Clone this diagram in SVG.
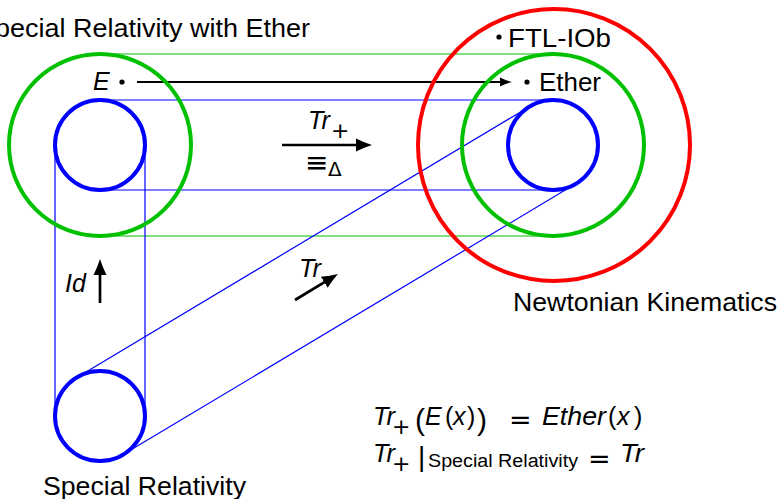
<svg xmlns="http://www.w3.org/2000/svg" width="781" height="499" viewBox="0 0 781 499">
<defs>
<style>
.lbl{font-family:"Liberation Sans",Arial,sans-serif;font-size:26px;fill:#000}
.it{font-family:"Liberation Sans",Arial,sans-serif;font-style:italic;font-size:25px;fill:#000}
.rm{font-family:"Liberation Sans",Arial,sans-serif;fill:#000}
.dv{font-family:"DejaVu Sans",sans-serif;fill:#000}
.g{fill:none;stroke:#00c000;stroke-width:4}
.b{fill:none;stroke:#0000ff;stroke-width:4}
.r{fill:none;stroke:#ff0000;stroke-width:4}
.tg{stroke:#00c000;stroke-width:1.2;fill:none}
.tb{stroke:#0000ff;stroke-width:1.2;fill:none}
.ar{stroke:#000;stroke-width:2;fill:none}
.arT{stroke:#000;stroke-width:2.7;fill:none}
</style>
<marker id="headS" markerUnits="userSpaceOnUse" viewBox="0 -5 12 10" markerWidth="12" markerHeight="10" refX="6" refY="0" orient="auto">
<path d="M0,-4.5 Q6,-1.5 12,0 Q6,1.5 0,4.5 Z" fill="#000"/>
</marker>
<marker id="headL" markerUnits="userSpaceOnUse" viewBox="0 -7 16 14" markerWidth="16" markerHeight="14" refX="8" refY="0" orient="auto">
<path d="M0,-6.5 Q8,-2.5 16,0 Q8,2.5 0,6.5 Z" fill="#000"/>
</marker>
</defs>
<rect width="781" height="499" fill="#fff"/>

<g id="connectors">
<line class="tg" x1="100" y1="54" x2="553" y2="54"/>
<line class="tg" x1="100" y1="236" x2="553" y2="236"/>
<line class="tb" x1="100" y1="100" x2="553" y2="100"/>
<line class="tb" x1="100" y1="190" x2="553" y2="190"/>
<line class="tb" x1="55" y1="145" x2="55" y2="416"/>
<line class="tb" x1="145" y1="145" x2="145" y2="416"/>
<line class="tb" x1="76.9" y1="377.4" x2="529.9" y2="106.4"/>
<line class="tb" x1="123.1" y1="454.6" x2="576.1" y2="183.6"/>
<line class="ar" x1="137" y1="82" x2="506" y2="82" marker-end="url(#headS)"/>
<line class="arT" x1="282" y1="145" x2="364" y2="145" marker-end="url(#headL)"/>
<line class="arT" x1="295" y1="300" x2="331.1" y2="278.1" marker-end="url(#headL)"/>
<line class="arT" x1="100" y1="303" x2="100" y2="267" marker-end="url(#headL)"/>
</g>

<g id="special-relativity-with-ether">
<circle class="g" cx="100" cy="145" r="91"/>
<text class="lbl" x="-23" y="37" textLength="333" lengthAdjust="spacingAndGlyphs">Special Relativity with Ether</text>
<text class="it" x="93" y="90" font-size="24">E</text>
<circle cx="122" cy="82" r="2.6" fill="#000"/>
</g>

<g id="sr-inner">
<circle class="b" cx="100" cy="145" r="45"/>
</g>

<g id="newtonian-kinematics">
<circle class="r" cx="554" cy="145" r="136"/>
<circle cx="499" cy="37" r="2.6" fill="#000"/>
<text class="lbl" x="508" y="47" font-size="27" textLength="103" lengthAdjust="spacingAndGlyphs">FTL-IOb</text>
<text class="lbl" x="513" y="311" textLength="264" lengthAdjust="spacingAndGlyphs">Newtonian Kinematics</text>
</g>

<g id="ether-image">
<circle class="g" cx="553" cy="145" r="91"/>
<circle cx="527" cy="82" r="2.6" fill="#000"/>
<text class="lbl" x="539" y="91" textLength="62" lengthAdjust="spacingAndGlyphs">Ether</text>
</g>

<g id="sr-image">
<circle class="b" cx="553" cy="145" r="45"/>
</g>

<g id="special-relativity">
<circle class="b" cx="100" cy="416" r="45"/>
<text class="lbl" x="43" y="495" textLength="203" lengthAdjust="spacingAndGlyphs">Special Relativity</text>
</g>

<g id="arrow-labels">
<text class="it" x="308" y="129" textLength="22" lengthAdjust="spacingAndGlyphs">Tr</text>
<text class="dv" x="331" y="138" font-size="22">+</text>
<text class="dv" x="305" y="172" font-size="28">≡</text>
<text class="dv" x="328" y="176" font-size="20">Δ</text>
<text class="it" x="299" y="277" textLength="22" lengthAdjust="spacingAndGlyphs">Tr</text>
<text class="it" x="65" y="292">Id</text>
</g>

<g id="formulas">
<text class="it" x="373" y="425" textLength="22" lengthAdjust="spacingAndGlyphs">Tr</text>
<text class="dv" x="392" y="434" font-size="22">+</text>
<text class="rm" x="415" y="430" font-size="30">(</text>
<text class="it" x="425" y="425">E</text>
<text class="rm" x="445" y="425" font-size="25">(</text>
<text class="it" x="453" y="425">x</text>
<text class="rm" x="467" y="425" font-size="25">)</text>
<text class="rm" x="477" y="430" font-size="30">)</text>
<text class="dv" x="509" y="429" font-size="27">=</text>
<text class="it" x="542" y="425" textLength="64" lengthAdjust="spacingAndGlyphs">Ether</text>
<text class="rm" x="608" y="425" font-size="25">(</text>
<text class="it" x="617" y="425">x</text>
<text class="rm" x="634" y="425" font-size="25">)</text>

<text class="it" x="373" y="462" textLength="22" lengthAdjust="spacingAndGlyphs">Tr</text>
<text class="dv" x="392" y="471" font-size="22">+</text>
<text class="rm" x="418" y="466" font-size="28">|</text>
<text class="rm" x="428" y="467" font-size="18" textLength="150" lengthAdjust="spacingAndGlyphs">Special Relativity</text>
<text class="dv" x="588" y="468" font-size="27">=</text>
<text class="it" x="620" y="462" textLength="24" lengthAdjust="spacingAndGlyphs">Tr</text>
</g>
</svg>
